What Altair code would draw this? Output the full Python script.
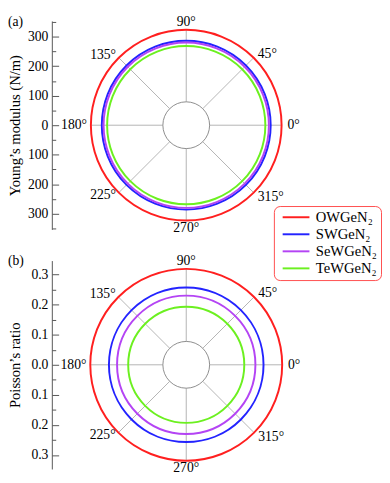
import altair as alt
import pandas as pd

# ---- data ----
materials = ["OWGeN₂", "SWGeN₂", "SeWGeN₂", "TeWGeN₂"]
colors = ["#ff1f1f", "#2323ff", "#b444f4", "#6cf020"]
young = [323, 286, 280, 268]            # Young's modulus (N/m), isotropic
poisson = [0.319, 0.257, 0.230, 0.193]  # Poisson's ratio, isotropic
angles = [0, 45, 90, 135, 180, 225, 270, 315]
angle_labels = [f"{a}°" for a in angles]
young_ticks = list(range(-350, 351, 50))
poisson_ticks = [round(-0.35 + 0.05 * i, 2) for i in range(15)]

FONT = "Liberation Serif"
HALF = 107          # half of plot size (px)
SIZE = 2 * HALF
HOLE = 24           # inner hole radius (px)


def panel(values, dom, ticks, major_test, label_expr, ytitle, tag):
    px = dom / HALF
    rmax = max(values)
    rin = HOLE * px
    circ = pd.DataFrame({"material": materials, "value": values})
    ang = pd.DataFrame({"angle": angles, "label": angle_labels})
    xs = alt.Scale(domain=[-dom, dom], nice=False, zero=False)
    ys = alt.Scale(domain=[-dom, dom], nice=False, zero=False)
    ss = alt.Scale(type="pow", exponent=2, domain=[0, dom], range=[0, SIZE ** 2], zero=True, nice=False)
    rad = "datum.angle*PI/180"

    def yaxis():
        return alt.Axis(
            values=ticks, title=ytitle, labelExpr=label_expr, offset=31,
            tickSize={"expr": "-7"}, labelPadding=11,
            tickDash={"condition": {"test": major_test, "value": [8, 0]}, "value": [4, 20]},
            domainColor="#555555", tickColor="#555555",
            labelFont=FONT, labelFontSize=14, labelColor="black",
            labelOverlap=False, labelFlush=False, grid=False,
            titleFont=FONT, titleFontSize=15, titleFontWeight="normal", titleColor="black",
            titleX=-30, titleY=HALF,
        )

    spokes = alt.Chart(ang).transform_calculate(
        sx1=f"cos({rad})*{rin}", sy1=f"sin({rad})*{rin}",
        sx2=f"cos({rad})*{rmax}", sy2=f"sin({rad})*{rmax}",
    ).mark_rule(color="#a0a0a0", strokeWidth=0.8).encode(
        x=alt.X("sx1:Q", scale=xs, axis=None),
        y=alt.Y("sy1:Q", scale=ys, axis=yaxis()),
        x2="sx2:Q", y2="sy2:Q",
    )

    inner = alt.Chart(pd.DataFrame({"r": [rin]})).mark_point(
        shape="circle", filled=False, color="#8c8c8c", strokeWidth=1, opacity=1
    ).encode(
        x=alt.XDatum(0, scale=xs, axis=None),
        y=alt.YDatum(0, scale=ys, axis=yaxis()),
        size=alt.Size("r:Q", scale=ss, legend=None),
    )

    circles = alt.Chart(circ).mark_point(
        shape="circle", filled=False, strokeWidth=2, opacity=1
    ).encode(
        x=alt.XDatum(0, scale=xs, axis=None),
        y=alt.YDatum(0, scale=ys, axis=yaxis()),
        size=alt.Size("value:Q", scale=ss, legend=None),
        color=alt.Color(
            "material:N", sort=materials,
            scale=alt.Scale(domain=materials, range=colors),
            legend=alt.Legend(
                title=None, orient="none", legendX=197, legendY=190,
                symbolType="M-1,0H4", symbolSize=121, symbolStrokeWidth=2,
                symbolOffset=3, labelOffset=21,
                labelFont=FONT, labelFontSize=15, labelColor="black",
                strokeColor="#ff4d4d", cornerRadius=6, padding=4, rowPadding=1.5,
                fillColor="white",
            ),
        ),
    )

    def labels(group, align, off):
        r = rmax + off * px
        return alt.Chart(ang).transform_filter(
            alt.FieldOneOfPredicate(field="angle", oneOf=group)
        ).transform_calculate(
            lx=f"cos({rad})*{r}", ly=f"sin({rad})*{r}"
        ).mark_text(align=align, baseline="middle", font=FONT, fontSize=14, color="black").encode(
            x=alt.X("lx:Q", scale=xs, axis=None),
            y=alt.Y("ly:Q", scale=ys, axis=yaxis()),
            text="label:N",
        )

    tag_text = alt.Chart(pd.DataFrame({"t": [tag]})).mark_text(
        align="left", baseline="middle", font=FONT, fontSize=14, color="black"
    ).encode(text="t:N", x=alt.value(-76), y=alt.value(1))

    return alt.layer(
        spokes, inner, circles,
        labels([0, 45, 315], "left", 6),
        labels([90, 270], "center", 8),
        labels([135, 180, 225], "right", 4),
        tag_text,
    ).properties(width=SIZE, height=SIZE)


pa = panel(young, 353, young_ticks, "abs(datum.value) % 100 === 0",
           "abs(datum.value) % 100 === 0 ? format(abs(datum.value), 'd') : ''",
           "Young’s modulus (N/m)", "(a)")
pb = panel(poisson, 0.3465, poisson_ticks, "abs(round(datum.value*100)) % 10 === 0",
           "abs(round(datum.value*100)) % 10 === 0 ? format(abs(datum.value), '.1f') : ''",
           "Poisson’s ratio", "(b)")

chart = alt.vconcat(pa, pb, spacing=32, bounds="flush").resolve_scale(
    x="independent", y="independent", size="independent", color="shared"
).configure(font=FONT).configure_view(strokeWidth=0).properties(
    padding={"left": 0, "top": 0, "right": 0, "bottom": 0}
)

chart.save("out.html", embed_options={"renderer": "svg", "actions": False})
